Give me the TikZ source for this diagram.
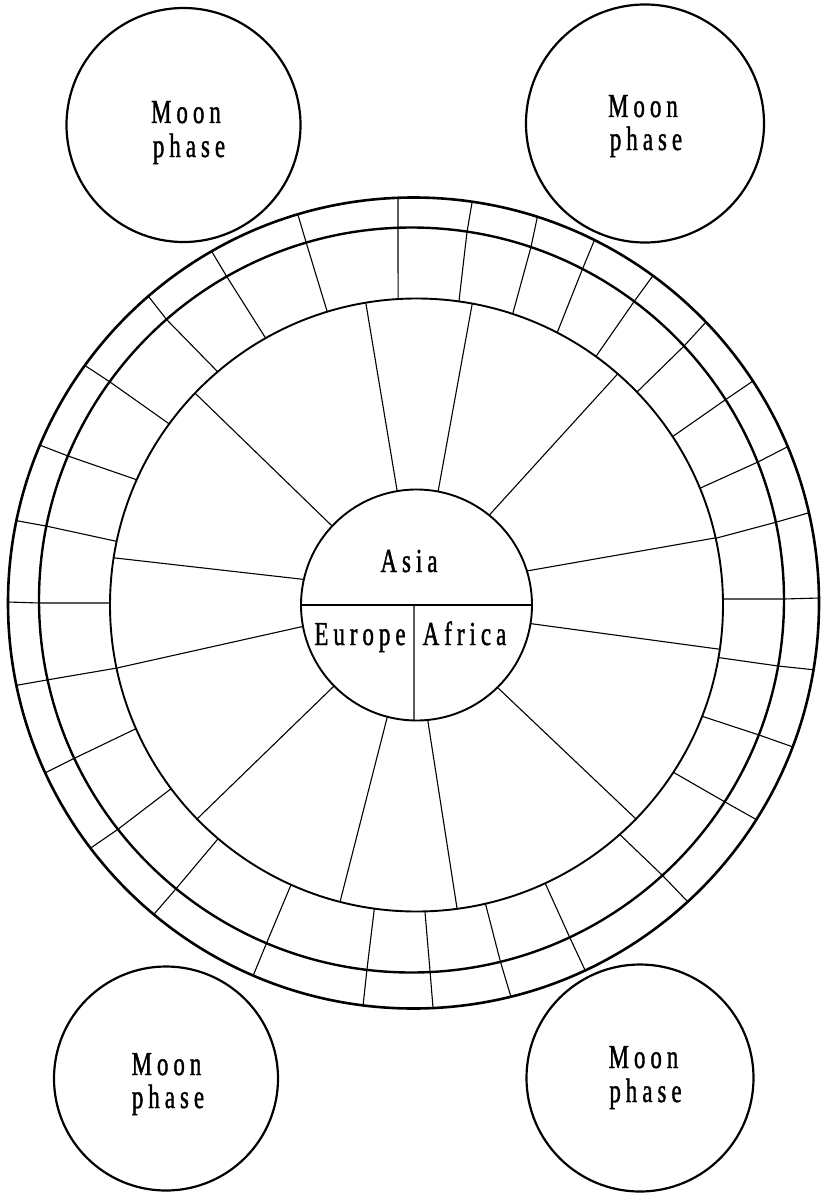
\documentclass[tikz,border=0pt]{standalone}
\usepackage{fontspec}
\setmainfont{Liberation Serif}
\newfontfamily\lblfont[FakeStretch=0.68,LetterSpace=15,FakeBold=1.2]{Liberation Serif}
\usetikzlibrary{calc}
\newcommand*\RadHub{57.75pt}
\newcommand*\RadIn{153.25pt}
\newcommand*\RadMid{186.25pt}
\newcommand*\RadOut{202.75pt}
\newcommand\bandline[3]{\draw[spoke] ($(C3)!\RadIn!#1$) -- ($(C2)!\RadMid!#2$) -- ($(C1)!\RadOut!#3$);}
\newcommand\hubspoke[2]{\draw[spoke] ($(C0)!\RadHub!#1$) -- ($(C3)!\RadIn!#2$);}
\begin{document}
\begin{tikzpicture}[x=0.5pt,y=-0.5pt,
  spoke/.style={line width=0.55pt,line join=round},
  outerring/.style={line width=1.3pt},
  midring/.style={line width=1.2pt},
  innerring/.style={line width=0.95pt},
  moon/.style={circle,draw,line width=1.1pt,inner sep=0pt},
  hub/.style={circle,draw,line width=0.95pt,inner sep=0pt,minimum size=115.5pt},
  lbl/.style={inner sep=0pt,anchor=base,font=\lblfont\fontsize{16.8}{16.5}\selectfont}]
\useasboundingbox (0,0) rectangle (820,1193);
\coordinate (C0) at (416.5,605);
\coordinate (C3) at (416.5,605);
\coordinate (C2) at (411.5,600);
\coordinate (C1) at (413.5,603);
% spokes between centre circle and inner ring
\hubspoke{(397,490)}{(366,304)}
\hubspoke{(331,525)}{(197,395)}
\hubspoke{(302,579)}{(115,558)}
\hubspoke{(300,627)}{(117,668)}
\hubspoke{(332,688)}{(198,818)}
\hubspoke{(387,718)}{(340,902)}
\hubspoke{(428,723)}{(457,908)}
\hubspoke{(499,689)}{(635,818)}
\hubspoke{(533,624)}{(718,649)}
\hubspoke{(530,570)}{(715,538)}
\hubspoke{(491,513)}{(615,377)}
\hubspoke{(438,492)}{(472,305)}
% lines across the two outer bands
\bandline{(398,298)}{(398,228)}{(398,198)}
\bandline{(327,311)}{(306,242)}{(298,215)}
\bandline{(265,337)}{(227,277)}{(212,252)}
\bandline{(217,371)}{(167,320)}{(149,297)}
\bandline{(168,423)}{(110,382)}{(87,367)}
\bandline{(135,479)}{(68,456)}{(42,446)}
\bandline{(115,541)}{(46,526)}{(18,521)}
\bandline{(108,603)}{(38,603)}{(8,602)}
\bandline{(117,668)}{(47,680)}{(18,685)}
\bandline{(133,730)}{(75,758)}{(47,772)}
\bandline{(168,791)}{(117,830)}{(92,847)}
\bandline{(217,840)}{(175,890)}{(155,913)}
\bandline{(290,887)}{(267,942)}{(253,976)}
\bandline{(374,911)}{(367,969)}{(363,1006)}
\bandline{(425,913)}{(430,970)}{(433,1007)}
\bandline{(486,906)}{(500,960)}{(511,997)}
\bandline{(546,885)}{(570,938)}{(585,970)}
\bandline{(622,837)}{(663,876)}{(688,902)}
\bandline{(676,774)}{(725,802)}{(757,820)}
\bandline{(704,717)}{(759,735)}{(793,747)}
\bandline{(721,658)}{(778,666)}{(815,670)}
\bandline{(725,599)}{(783,599)}{(820,598)}
\bandline{(717,538)}{(777,522)}{(808,513)}
\bandline{(703,487)}{(758,462)}{(787,447)}
\bandline{(675,435)}{(725,400)}{(753,381)}
\bandline{(638,391)}{(683,347)}{(705,323)}
\bandline{(597,355)}{(633,303)}{(652,277)}
\bandline{(557,333)}{(583,268)}{(593,243)}
\bandline{(513,313)}{(530,250)}{(537,218)}
\bandline{(459,301)}{(467,232)}{(472,203)}
% rings
\draw[outerring] (C1) circle[radius=405.5];
\draw[midring] (C2) circle[radius=372.5];
\draw[innerring] (C3) circle[radius=306.5];
% centre circle
\node[hub] (hub) at (C0) {};
\draw[spoke] (hub.west) -- (hub.east);
\coordinate (split) at (414,605);
\draw[spoke] (split) -- ($(C0)!\RadHub!(414,721)$);
\node[lbl] (asia) at (409,572) {Asia};
\node[lbl] (europe) at (360,645) {Europe};
\node[lbl] (africa) at (464.5,645) {Africa};
% moon phase circles
\node[moon,minimum size=117pt] (moonTL) at (183.5,125) {};
\node[moon,minimum size=119pt] (moonTR) at (645,123.5) {};
\node[moon,minimum size=112pt] (moonBL) at (166,1078.5) {};
\node[moon,minimum size=113.5pt] (moonBR) at (640,1078) {};
\node[lbl] (tlA) at (186,123) {Moon};
\node[lbl] (tlB) at (189,157) {phase};
\node[lbl] (trA) at (643,117) {Moon};
\node[lbl] (trB) at (646,150) {phase};
\node[lbl] (blA) at (166.5,1075) {Moon};
\node[lbl] (blB) at (168,1108) {phase};
\node[lbl] (brA) at (643.5,1068) {Moon};
\node[lbl] (brB) at (645.5,1102) {phase};
\end{tikzpicture}
\end{document}
